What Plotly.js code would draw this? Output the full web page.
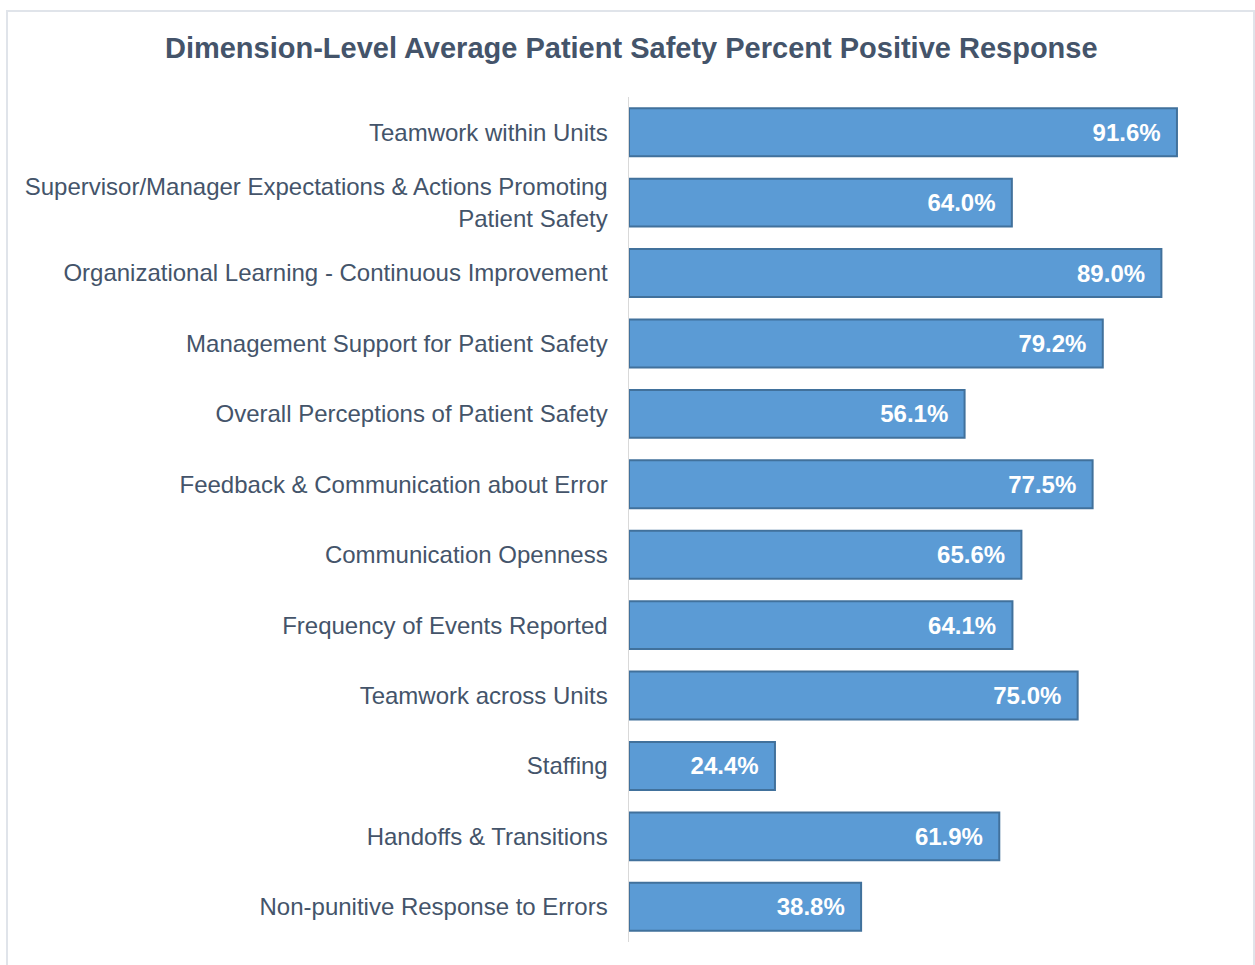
<!DOCTYPE html>
<html>
<head>
<meta charset="utf-8">
<script src="https://cdn.plot.ly/plotly-3.0.1.min.js"></script>
<style>
html, body { margin: 0; padding: 0; background: #ffffff; }
#chart { width: 1255px; height: 965px; }
</style>
</head>
<body>
<div id="chart"></div>
<script>
const categories = [
  "Teamwork within Units",
  "Supervisor/Manager Expectations & Actions Promoting<br>Patient Safety",
  "Organizational Learning - Continuous Improvement",
  "Management Support for Patient Safety",
  "Overall Perceptions of Patient Safety",
  "Feedback & Communication about Error",
  "Communication Openness",
  "Frequency of Events Reported",
  "Teamwork across Units",
  "Staffing",
  "Handoffs & Transitions",
  "Non-punitive Response to Errors"
];
const values = [91.6, 64.0, 89.0, 79.2, 56.1, 77.5, 65.6, 64.1, 75.0, 24.4, 61.9, 38.8];
const titleText = "Dimension-Level Average Patient Safety Percent Positive Response";

const fontFam = "Arial, 'Liberation Sans', sans-serif";
const textColor = "#44546a";

const trace = {
  type: "bar",
  orientation: "h",
  x: values,
  y: categories,
  width: 0.68,
  marker: { color: "#5b9bd5", line: { color: "#41719c", width: 2 } },
  texttemplate: "%{x:.1f}%\u00a0\u00a0",
  textposition: "inside",
  insidetextanchor: "end",
  textangle: 0,
  insidetextfont: { family: fontFam, size: 24, color: "#ffffff", weight: "bold" },
  hoverinfo: "skip",
  cliponaxis: false
};

const layout = {
  width: 1255,
  height: 965,
  margin: { l: 629, r: 26, t: 97, b: 23, pad: 0 },
  paper_bgcolor: "#ffffff",
  plot_bgcolor: "#ffffff",
  showlegend: false,
  title: {
    text: "<b>" + titleText + "</b>",
    font: { family: fontFam, size: 29, color: textColor },
    x: 0.503, xanchor: "center",
    y: 1 - 48 / 965, yanchor: "middle"
  },
  xaxis: {
    range: [0, 100.3],
    showgrid: false,
    zeroline: false,
    showline: false,
    showticklabels: false,
    ticks: "",
    fixedrange: true
  },
  yaxis: {
    type: "category",
    autorange: "reversed",
    showgrid: false,
    zeroline: false,
    showline: true,
    linecolor: "#d9d9d9",
    linewidth: 1.5,
    ticks: "",
    ticklabelstandoff: 15,
    tickfont: { family: fontFam, size: 24, color: textColor },
    fixedrange: true
  },
  bargap: 0.32,
  shapes: [{
    type: "rect",
    xref: "paper", yref: "paper",
    x0: (7 - 629) / 600, x1: (1254 - 629) / 600,
    y0: (942 - 975) / 845, y1: (942 - 11) / 845,
    line: { color: "#e0e4ea", width: 2 },
    fillcolor: "rgba(0,0,0,0)",
    layer: "below"
  }]
};

Plotly.newPlot("chart", [trace], layout, { displayModeBar: false, staticPlot: true });
</script>
</body>
</html>
